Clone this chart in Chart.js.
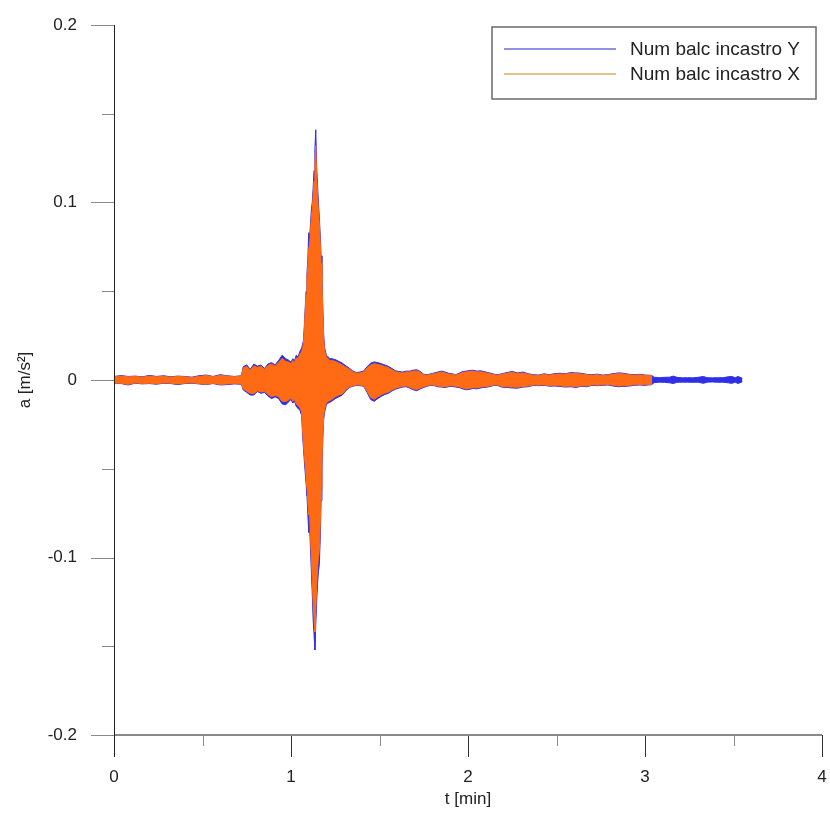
<!DOCTYPE html>
<html>
<head>
<meta charset="utf-8">
<script src="https://cdn.jsdelivr.net/npm/chart.js@4.4.1/dist/chart.umd.min.js"></script>
<style>
  body { margin: 0; background: #fff; }
  canvas { display: block; }
</style>
</head>
<body>
<canvas id="accChart" width="830" height="821"></canvas>
<script>
// time axis [min], shared by both records up to 3.04 min
const tMain = [
  0, 0.04, 0.08, 0.12, 0.16, 0.2, 0.24, 0.28, 0.32, 0.36, 0.4, 0.44, 0.48, 0.52, 0.56, 0.6, 0.64, 0.68, 0.72,
  0.73, 0.75, 0.77, 0.79, 0.81, 0.83, 0.85, 0.87, 0.89, 0.91, 0.93, 0.95, 0.97,
  0.99, 1.00, 1.01, 1.02, 1.03, 1.04, 1.05, 1.06, 1.065, 1.07, 1.075, 1.08, 1.085, 1.09, 1.095, 1.10, 1.105, 1.11, 1.115,
  1.12, 1.125, 1.13, 1.135, 1.14, 1.145, 1.15, 1.155, 1.16, 1.165, 1.17, 1.175, 1.18, 1.185, 1.19, 1.195, 1.20, 1.21, 1.22, 1.23, 1.25, 1.27, 1.29,
  1.31, 1.33, 1.35, 1.37, 1.39, 1.41, 1.43, 1.45, 1.47, 1.49, 1.51, 1.53, 1.55, 1.57, 1.59, 1.61, 1.63, 1.65, 1.67, 1.69, 1.71, 1.73, 1.75,
  1.77, 1.79, 1.81, 1.83, 1.85, 1.87, 1.89, 1.91, 1.93, 1.95, 1.97, 1.99, 2.01, 2.03, 2.05, 2.07, 2.09, 2.11, 2.13, 2.15, 2.17, 2.19,
  2.22, 2.25, 2.28, 2.31, 2.34, 2.37, 2.40, 2.43, 2.46, 2.49, 2.52, 2.55, 2.58, 2.61, 2.64, 2.67, 2.70, 2.73, 2.76, 2.79, 2.82, 2.85,
  2.88, 2.91, 2.94, 2.97, 3.00, 3.04
];

// Num balc incastro Y : upper / lower envelope [m/s2]
const yUpper = [
  0.002, 0.0025, 0.002, 0.0022, 0.0018, 0.0026, 0.002, 0.0024, 0.0018, 0.0022, 0.002, 0.0016, 0.0024, 0.0028, 0.002, 0.003, 0.0024, 0.002, 0.0024,
  0.0075, 0.0085, 0.006, 0.009, 0.0078, 0.0085, 0.0065, 0.009, 0.0098, 0.0085, 0.011, 0.014, 0.012,
  0.011, 0.01, 0.012, 0.011, 0.014, 0.013, 0.016, 0.018, 0.02, 0.022, 0.03, 0.04, 0.05, 0.06, 0.068, 0.083, 0.08, 0.088, 0.096,
  0.1, 0.108, 0.118, 0.13, 0.141, 0.12, 0.11, 0.1, 0.092, 0.082, 0.07, 0.058, 0.04, 0.025, 0.018, 0.016, 0.014, 0.013, 0.012, 0.012, 0.0115, 0.0105, 0.0095,
  0.008, 0.0066, 0.005, 0.0042, 0.0045, 0.005, 0.0075, 0.0095, 0.0102, 0.0098, 0.0092, 0.0085, 0.0077, 0.0065, 0.0052, 0.0048, 0.0045, 0.005, 0.005, 0.0055, 0.0058, 0.0048, 0.0032,
  0.003, 0.0035, 0.004, 0.0045, 0.005, 0.0045, 0.0038, 0.0035, 0.003, 0.0038, 0.0048, 0.005, 0.0054, 0.0055, 0.005, 0.0052, 0.0048, 0.0042, 0.0038, 0.0032, 0.003, 0.0035,
  0.0042, 0.0048, 0.004, 0.0045, 0.0035, 0.003, 0.0028, 0.0035, 0.003, 0.0036, 0.0038, 0.0035, 0.0042, 0.004, 0.0038, 0.0032, 0.003, 0.0033, 0.0028, 0.003, 0.0036, 0.004,
  0.0038, 0.0032, 0.003, 0.0032, 0.0028, 0.0026
];
const yLower = [
  -0.002, -0.002, -0.0028, -0.0018, -0.0022, -0.002, -0.0024, -0.0018, -0.002, -0.0026, -0.002, -0.0018, -0.0022, -0.0026, -0.002, -0.0028, -0.0026, -0.0022, -0.0024,
  -0.0056, -0.007, -0.0085, -0.0085, -0.0065, -0.0075, -0.007, -0.009, -0.0105, -0.0095, -0.0105, -0.0135, -0.014,
  -0.012, -0.011, -0.013, -0.012, -0.015, -0.016, -0.017, -0.02, -0.03, -0.038, -0.045, -0.052, -0.058, -0.065, -0.075, -0.086, -0.082, -0.095, -0.108,
  -0.12, -0.135, -0.143, -0.152, -0.138, -0.125, -0.115, -0.108, -0.104, -0.09, -0.068, -0.05, -0.032, -0.022, -0.018, -0.016, -0.014, -0.013, -0.0125, -0.012, -0.0105, -0.0095, -0.0085,
  -0.006, -0.0042, -0.0035, -0.003, -0.0032, -0.0035, -0.007, -0.011, -0.012, -0.0105, -0.0092, -0.0082, -0.0075, -0.0062, -0.0052, -0.0045, -0.004, -0.0038, -0.0045, -0.0055, -0.006, -0.005, -0.0042,
  -0.0035, -0.003, -0.0032, -0.0038, -0.004, -0.0042, -0.0038, -0.0036, -0.004, -0.0042, -0.005, -0.0055, -0.0052, -0.0048, -0.005, -0.0045, -0.0042, -0.004, -0.0035, -0.003, -0.0032, -0.004,
  -0.0042, -0.0045, -0.0046, -0.004, -0.0038, -0.003, -0.0032, -0.003, -0.0035, -0.0034, -0.0036, -0.004, -0.0038, -0.0042, -0.0035, -0.0038, -0.003, -0.0032, -0.003, -0.0028, -0.0034, -0.0038,
  -0.0036, -0.0034, -0.003, -0.0028, -0.003, -0.0026
];

// Num balc incastro X : upper / lower envelope [m/s2]
const xUpper = [
  0.0018, 0.0022, 0.0018, 0.002, 0.0016, 0.0022, 0.0018, 0.002, 0.0016, 0.002, 0.0018, 0.0014, 0.002, 0.0025, 0.0018, 0.0026, 0.0022, 0.0018, 0.0022,
  0.0068, 0.0076, 0.0055, 0.008, 0.007, 0.0078, 0.006, 0.0082, 0.009, 0.0078, 0.0098, 0.0122, 0.0105,
  0.01, 0.009, 0.011, 0.01, 0.0125, 0.012, 0.0145, 0.016, 0.018, 0.02, 0.028, 0.038, 0.048, 0.057, 0.064, 0.074, 0.076, 0.084, 0.092,
  0.096, 0.104, 0.112, 0.122, 0.132, 0.114, 0.105, 0.095, 0.088, 0.078, 0.066, 0.055, 0.037, 0.023, 0.016, 0.015, 0.013, 0.012, 0.011, 0.011, 0.0105, 0.0095, 0.0085,
  0.0072, 0.006, 0.0045, 0.0038, 0.004, 0.0045, 0.0068, 0.0085, 0.0092, 0.0088, 0.0083, 0.0076, 0.007, 0.0058, 0.0047, 0.0043, 0.004, 0.0045, 0.0045, 0.005, 0.0052, 0.0043, 0.0029,
  0.0027, 0.0032, 0.0036, 0.004, 0.0045, 0.004, 0.0034, 0.0032, 0.0027, 0.0034, 0.0043, 0.0045, 0.0049, 0.005, 0.0045, 0.0047, 0.0043, 0.0038, 0.0034, 0.0029, 0.0027, 0.0032,
  0.0038, 0.0043, 0.0036, 0.004, 0.0032, 0.0027, 0.0025, 0.0032, 0.0027, 0.0032, 0.0034, 0.0032, 0.0038, 0.0036, 0.0034, 0.0029, 0.0027, 0.003, 0.0025, 0.0027, 0.0032, 0.0036,
  0.0034, 0.0029, 0.0027, 0.0029, 0.0025, 0.0024
];
const xLower = [
  -0.0018, -0.0018, -0.0025, -0.0016, -0.002, -0.0018, -0.0022, -0.0016, -0.0018, -0.0022, -0.0018, -0.0016, -0.002, -0.0024, -0.0018, -0.0025, -0.0022, -0.002, -0.0022,
  -0.005, -0.0064, -0.0075, -0.0078, -0.006, -0.0068, -0.0064, -0.0082, -0.0094, -0.0086, -0.0095, -0.012, -0.0122,
  -0.011, -0.01, -0.012, -0.011, -0.0135, -0.0145, -0.0155, -0.018, -0.027, -0.035, -0.042, -0.048, -0.054, -0.06, -0.069, -0.076, -0.075, -0.088, -0.1,
  -0.112, -0.126, -0.134, -0.142, -0.13, -0.116, -0.106, -0.1, -0.096, -0.082, -0.062, -0.046, -0.03, -0.02, -0.016, -0.0145, -0.013, -0.012, -0.0115, -0.011, -0.0095, -0.0085, -0.0078,
  -0.0054, -0.0038, -0.0032, -0.0027, -0.0029, -0.0032, -0.0063, -0.0099, -0.0108, -0.0095, -0.0083, -0.0074, -0.0068, -0.0056, -0.0047, -0.004, -0.0036, -0.0034, -0.004, -0.005, -0.0054, -0.0045, -0.0038,
  -0.0032, -0.0027, -0.0029, -0.0034, -0.0036, -0.0038, -0.0034, -0.0032, -0.0036, -0.0038, -0.0045, -0.005, -0.0047, -0.0043, -0.0045, -0.004, -0.0038, -0.0036, -0.0032, -0.0027, -0.0029, -0.0036,
  -0.0038, -0.004, -0.0041, -0.0036, -0.0034, -0.0027, -0.0029, -0.0027, -0.0032, -0.003, -0.0032, -0.0036, -0.0034, -0.0038, -0.0032, -0.0034, -0.0027, -0.0029, -0.0027, -0.0025, -0.003, -0.0034,
  -0.0032, -0.003, -0.0027, -0.0025, -0.0027, -0.0024
];

// Y record goes on after the X record stops
const tTail = [3.05, 3.08, 3.11, 3.14, 3.16, 3.18, 3.21, 3.24, 3.27, 3.30, 3.33, 3.35, 3.38, 3.41, 3.44, 3.47, 3.49, 3.51, 3.525, 3.55];
const yTailUpper = [0.0016, 0.0013, 0.0015, 0.0016, 0.0022, 0.0015, 0.0012, 0.0013, 0.0012, 0.0015, 0.002, 0.0013, 0.0012, 0.0013, 0.0013, 0.0018, 0.002, 0.0013, 0.002, 0.001];
const yTailLower = [-0.0015, -0.0012, -0.0013, -0.0016, -0.002, -0.0013, -0.0012, -0.0012, -0.0013, -0.0012, -0.0019, -0.0012, -0.0011, -0.0013, -0.0012, -0.0016, -0.0019, -0.0012, -0.002, -0.001];

const xTicks = [0, 0.5, 1, 1.5, 2, 2.5, 3, 3.5, 4];
const yTicks = [-0.2, -0.15, -0.1, -0.05, 0, 0.05, 0.1, 0.15, 0.2];

const seriesNames = ['Num balc incastro Y', 'Num balc incastro X'];
const blue = '#2f2fe6';
const orange = '#ff6a14';

function pts(ts, vals) {
  return ts.map((t, i) => ({ x: t, y: vals[i] }));
}

const tY = tMain.concat(tTail);

// axes lines and ticks drawn like the original (major/minor, outward)
const axesPlugin = {
  id: 'axesPlugin',
  afterDraw(chart) {
    const { ctx, chartArea: a, scales } = chart;
    const x = scales.x, y = scales.y;
    ctx.save();
    ctx.lineWidth = 1;
    ctx.strokeStyle = '#8a8a8a';
    yTicks.forEach(v => {
      const py = Math.round(y.getPixelForValue(v)) + 0.5;
      const major = Math.abs(Math.round(v * 10) - v * 10) < 1e-6;
      ctx.beginPath();
      ctx.moveTo(a.left - (major ? 23 : 12), py);
      ctx.lineTo(a.left, py);
      ctx.stroke();
    });
    xTicks.forEach(v => {
      const px = Math.round(x.getPixelForValue(v)) + 0.5;
      const major = Number.isInteger(v);
      ctx.strokeStyle = major ? '#333' : '#8a8a8a';
      ctx.beginPath();
      ctx.moveTo(px, a.bottom);
      ctx.lineTo(px, a.bottom + (major ? 22 : 11));
      ctx.stroke();
    });
    ctx.strokeStyle = '#8a8a8a';
    ctx.lineWidth = 2;
    ctx.beginPath();
    ctx.moveTo(a.left, a.bottom);
    ctx.lineTo(a.right, a.bottom);
    ctx.stroke();
    ctx.strokeStyle = '#222';
    ctx.lineWidth = 1;
    ctx.beginPath();
    ctx.moveTo(Math.round(a.left) + 0.5, a.top);
    ctx.lineTo(Math.round(a.left) + 0.5, a.bottom + 22);
    ctx.stroke();

    // legend box
    const bx = a.right - 330, by = a.top + 2, bw = 324, bh = 72;
    ctx.strokeStyle = '#6a6a6a';
    ctx.lineWidth = 1.5;
    ctx.strokeRect(bx, by, bw, bh);
    const legendColors = ['#6b6be2', '#e2a866'];
    ctx.font = '19px "Liberation Sans", Arial, sans-serif';
    ctx.textBaseline = 'middle';
    ctx.fillStyle = '#222';
    seriesNames.forEach((name, i) => {
      const ly = by + 22 + i * 25;
      ctx.strokeStyle = legendColors[i];
      ctx.lineWidth = 1.5;
      ctx.beginPath();
      ctx.moveTo(bx + 12, ly);
      ctx.lineTo(bx + 124, ly);
      ctx.stroke();
      ctx.fillText(name, bx + 138, ly + 1);
    });
    ctx.restore();
  }
};

const font = { family: '"Liberation Sans", Arial, sans-serif', size: 17 };

new Chart(document.getElementById('accChart'), {
  type: 'line',
  data: {
    datasets: [
      { label: seriesNames[1], data: pts(tMain, xUpper), borderColor: orange, backgroundColor: orange, fill: '+1' },
      { label: seriesNames[1] + ' min', data: pts(tMain, xLower), borderColor: orange, fill: false },
      { label: seriesNames[0], data: pts(tY, yUpper.concat(yTailUpper)), borderColor: blue, backgroundColor: blue, fill: '+1' },
      { label: seriesNames[0] + ' min', data: pts(tY, yLower.concat(yTailLower)), borderColor: blue, fill: false }
    ]
  },
  options: {
    responsive: false,
    animation: false,
    events: [],
    parsing: false,
    elements: {
      point: { radius: 0 },
      line: { borderWidth: 1, tension: 0 }
    },
    layout: { padding: { left: 10, top: 25, right: 8, bottom: 7 } },
    plugins: {
      legend: { display: false },
      tooltip: { enabled: false }
    },
    scales: {
      x: {
        type: 'linear',
        min: 0,
        max: 4,
        grid: { display: false, drawTicks: false },
        border: { display: false },
        ticks: { stepSize: 1, padding: 32, color: '#222', font: font },
        title: { display: true, text: 't [min]', color: '#222', font: font, padding: { top: 2, bottom: 4 } },
        afterFit: s => { s.height = 79; s.paddingLeft = 0; s.paddingRight = 0; }
      },
      y: {
        type: 'linear',
        min: -0.2,
        max: 0.2,
        grid: { display: false, drawTicks: false },
        border: { display: false },
        ticks: {
          stepSize: 0.1,
          padding: 37,
          color: '#222',
          font: font,
          callback: v => String(Math.round(v * 10) / 10)
        },
        title: { display: true, text: 'a [m/s²]', color: '#222', font: font, padding: { top: 5, bottom: 13 } },
        afterFit: s => { s.width = 104; s.paddingTop = 0; s.paddingBottom = 0; }
      }
    }
  },
  plugins: [axesPlugin]
});
</script>
</body>
</html>
